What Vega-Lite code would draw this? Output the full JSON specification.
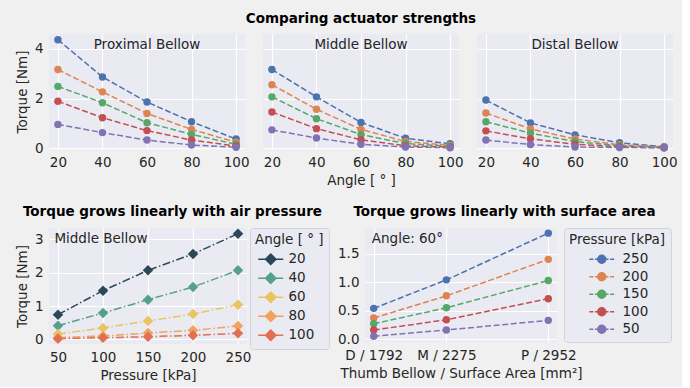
{
  "$schema": "https://vega.github.io/schema/vega-lite/v6.json",
  "background": "#f0f0f0",
  "padding": {"left": 15, "top": 11, "right": 5, "bottom": 5},
  "config": {
    "font": "DejaVu Sans",
    "view": {"fill": "#eaeaf2", "stroke": null},
    "axis": {"domain": false, "ticks": false, "gridColor": "#ffffff", "gridWidth": 1.2, "labelFontSize": 13.5, "labelColor": "#262626", "titleFontSize": 13.5, "titleFontWeight": "normal", "titleColor": "#262626", "labelPadding": 6, "titlePadding": 5, "labelFont": "DejaVu Sans", "titleFont": "DejaVu Sans", "labelOverlap": false, "labelFlush": false},
    "title": {"fontSize": 13.5, "fontWeight": "bold", "color": "#000000", "font": "DejaVu Sans", "anchor": "middle", "offset": 9},
    "legend": {"titleFontSize": 13.5, "labelFontSize": 13.5, "titleFontWeight": "normal", "titleColor": "#262626", "labelColor": "#262626", "titleFont": "DejaVu Sans", "labelFont": "DejaVu Sans", "fillColor": "#eaeaf2", "strokeColor": "#d2d2da", "cornerRadius": 3, "padding": 5, "rowPadding": 3, "titlePadding": 6, "symbolStrokeWidth": 1.5}
  },
  "datasets": {
    "torque": [
      {"bellow":"Proximal","area":2952,"pressure":250,"angle":20,"torque":4.37},
      {"bellow":"Proximal","area":2952,"pressure":250,"angle":40,"torque":2.87},
      {"bellow":"Proximal","area":2952,"pressure":250,"angle":60,"torque":1.86},
      {"bellow":"Proximal","area":2952,"pressure":250,"angle":80,"torque":1.07},
      {"bellow":"Proximal","area":2952,"pressure":250,"angle":100,"torque":0.37},
      {"bellow":"Proximal","area":2952,"pressure":200,"angle":20,"torque":3.17},
      {"bellow":"Proximal","area":2952,"pressure":200,"angle":40,"torque":2.27},
      {"bellow":"Proximal","area":2952,"pressure":200,"angle":60,"torque":1.40},
      {"bellow":"Proximal","area":2952,"pressure":200,"angle":80,"torque":0.76},
      {"bellow":"Proximal","area":2952,"pressure":200,"angle":100,"torque":0.24},
      {"bellow":"Proximal","area":2952,"pressure":150,"angle":20,"torque":2.49},
      {"bellow":"Proximal","area":2952,"pressure":150,"angle":40,"torque":1.83},
      {"bellow":"Proximal","area":2952,"pressure":150,"angle":60,"torque":1.03},
      {"bellow":"Proximal","area":2952,"pressure":150,"angle":80,"torque":0.56},
      {"bellow":"Proximal","area":2952,"pressure":150,"angle":100,"torque":0.16},
      {"bellow":"Proximal","area":2952,"pressure":100,"angle":20,"torque":1.89},
      {"bellow":"Proximal","area":2952,"pressure":100,"angle":40,"torque":1.23},
      {"bellow":"Proximal","area":2952,"pressure":100,"angle":60,"torque":0.71},
      {"bellow":"Proximal","area":2952,"pressure":100,"angle":80,"torque":0.33},
      {"bellow":"Proximal","area":2952,"pressure":100,"angle":100,"torque":0.09},
      {"bellow":"Proximal","area":2952,"pressure":50,"angle":20,"torque":0.96},
      {"bellow":"Proximal","area":2952,"pressure":50,"angle":40,"torque":0.63},
      {"bellow":"Proximal","area":2952,"pressure":50,"angle":60,"torque":0.33},
      {"bellow":"Proximal","area":2952,"pressure":50,"angle":80,"torque":0.13},
      {"bellow":"Proximal","area":2952,"pressure":50,"angle":100,"torque":0.04},
      {"bellow":"Middle","area":2275,"pressure":250,"angle":20,"torque":3.17},
      {"bellow":"Middle","area":2275,"pressure":250,"angle":40,"torque":2.07},
      {"bellow":"Middle","area":2275,"pressure":250,"angle":60,"torque":1.04},
      {"bellow":"Middle","area":2275,"pressure":250,"angle":80,"torque":0.40},
      {"bellow":"Middle","area":2275,"pressure":250,"angle":100,"torque":0.18},
      {"bellow":"Middle","area":2275,"pressure":200,"angle":20,"torque":2.56},
      {"bellow":"Middle","area":2275,"pressure":200,"angle":40,"torque":1.57},
      {"bellow":"Middle","area":2275,"pressure":200,"angle":60,"torque":0.76},
      {"bellow":"Middle","area":2275,"pressure":200,"angle":80,"torque":0.27},
      {"bellow":"Middle","area":2275,"pressure":200,"angle":100,"torque":0.12},
      {"bellow":"Middle","area":2275,"pressure":150,"angle":20,"torque":2.07},
      {"bellow":"Middle","area":2275,"pressure":150,"angle":40,"torque":1.19},
      {"bellow":"Middle","area":2275,"pressure":150,"angle":60,"torque":0.55},
      {"bellow":"Middle","area":2275,"pressure":150,"angle":80,"torque":0.19},
      {"bellow":"Middle","area":2275,"pressure":150,"angle":100,"torque":0.08},
      {"bellow":"Middle","area":2275,"pressure":100,"angle":20,"torque":1.46},
      {"bellow":"Middle","area":2275,"pressure":100,"angle":40,"torque":0.79},
      {"bellow":"Middle","area":2275,"pressure":100,"angle":60,"torque":0.34},
      {"bellow":"Middle","area":2275,"pressure":100,"angle":80,"torque":0.10},
      {"bellow":"Middle","area":2275,"pressure":100,"angle":100,"torque":0.05},
      {"bellow":"Middle","area":2275,"pressure":50,"angle":20,"torque":0.74},
      {"bellow":"Middle","area":2275,"pressure":50,"angle":40,"torque":0.41},
      {"bellow":"Middle","area":2275,"pressure":50,"angle":60,"torque":0.16},
      {"bellow":"Middle","area":2275,"pressure":50,"angle":80,"torque":0.05},
      {"bellow":"Middle","area":2275,"pressure":50,"angle":100,"torque":0.02},
      {"bellow":"Distal","area":1792,"pressure":250,"angle":20,"torque":1.94},
      {"bellow":"Distal","area":1792,"pressure":250,"angle":40,"torque":1.02},
      {"bellow":"Distal","area":1792,"pressure":250,"angle":60,"torque":0.54},
      {"bellow":"Distal","area":1792,"pressure":250,"angle":80,"torque":0.22},
      {"bellow":"Distal","area":1792,"pressure":250,"angle":100,"torque":0.06},
      {"bellow":"Distal","area":1792,"pressure":200,"angle":20,"torque":1.42},
      {"bellow":"Distal","area":1792,"pressure":200,"angle":40,"torque":0.78},
      {"bellow":"Distal","area":1792,"pressure":200,"angle":60,"torque":0.37},
      {"bellow":"Distal","area":1792,"pressure":200,"angle":80,"torque":0.14},
      {"bellow":"Distal","area":1792,"pressure":200,"angle":100,"torque":0.05},
      {"bellow":"Distal","area":1792,"pressure":150,"angle":20,"torque":1.07},
      {"bellow":"Distal","area":1792,"pressure":150,"angle":40,"torque":0.61},
      {"bellow":"Distal","area":1792,"pressure":150,"angle":60,"torque":0.27},
      {"bellow":"Distal","area":1792,"pressure":150,"angle":80,"torque":0.10},
      {"bellow":"Distal","area":1792,"pressure":150,"angle":100,"torque":0.03},
      {"bellow":"Distal","area":1792,"pressure":100,"angle":20,"torque":0.70},
      {"bellow":"Distal","area":1792,"pressure":100,"angle":40,"torque":0.38},
      {"bellow":"Distal","area":1792,"pressure":100,"angle":60,"torque":0.16},
      {"bellow":"Distal","area":1792,"pressure":100,"angle":80,"torque":0.06},
      {"bellow":"Distal","area":1792,"pressure":100,"angle":100,"torque":0.02},
      {"bellow":"Distal","area":1792,"pressure":50,"angle":20,"torque":0.33},
      {"bellow":"Distal","area":1792,"pressure":50,"angle":40,"torque":0.15},
      {"bellow":"Distal","area":1792,"pressure":50,"angle":60,"torque":0.05},
      {"bellow":"Distal","area":1792,"pressure":50,"angle":80,"torque":0.03},
      {"bellow":"Distal","area":1792,"pressure":50,"angle":100,"torque":0.02}
    ]
  },
  "spacing": 18,
  "resolve": {"scale": {"color": "independent"}},
  "vconcat": [
    {
      "bounds": "flush",
      "spacing": 18,
      "hconcat": [
        {
          "width": 196, "height": 115,
          "layer": [
            {"data": {"name": "torque"}, "transform": [{"filter": "datum.bellow == 'Proximal'"}],
             "mark": {"type": "line", "strokeWidth": 1.5, "strokeDash": [6, 2.6]},
             "encoding": {
               "x": {"field": "angle", "type": "quantitative", "scale": {"domain": [16, 104], "nice": false}, "axis": {"values": [20, 40, 60, 80, 100], "title": null}},
               "y": {"field": "torque", "type": "quantitative", "scale": {"domain": [-0.03, 4.6], "nice": false, "zero": false}, "axis": {"values": [0, 2, 4], "title": "Torque [Nm]"}},
               "color": {"field": "pressure", "type": "nominal", "scale": {"domain": [250, 200, 150, 100, 50], "range": ["#4c72b0", "#dd8452", "#55a868", "#c44e52", "#8172b3"]}, "legend": null}
             }},
            {"data": {"name": "torque"}, "transform": [{"filter": "datum.bellow == 'Proximal'"}],
             "mark": {"type": "point", "filled": true, "size": 55, "opacity": 1},
             "encoding": {
               "x": {"field": "angle", "type": "quantitative"},
               "y": {"field": "torque", "type": "quantitative"},
               "color": {"field": "pressure", "type": "nominal", "legend": null}
             }},
            {"data": {"values": [{"label": "Proximal Bellow"}]},
             "mark": {"type": "text", "fontSize": 13.5, "color": "#262626", "baseline": "middle"},
             "encoding": {"x": {"datum": 60}, "y": {"datum": 4.16}, "text": {"field": "label"}}}
          ]
        },
        {
          "width": 196, "height": 115,
          "title": {"text": "Comparing actuator strengths", "anchor": "middle", "frame": "group"},
          "layer": [
            {"data": {"name": "torque"}, "transform": [{"filter": "datum.bellow == 'Middle'"}],
             "mark": {"type": "line", "strokeWidth": 1.5, "strokeDash": [6, 2.6]},
             "encoding": {
               "x": {"field": "angle", "type": "quantitative", "scale": {"domain": [16, 104], "nice": false}, "axis": {"values": [20, 40, 60, 80, 100], "title": "Angle [ ° ]"}},
               "y": {"field": "torque", "type": "quantitative", "scale": {"domain": [-0.03, 4.6], "nice": false, "zero": false}, "axis": {"values": [0, 2, 4], "title": null, "labels": false}},
               "color": {"field": "pressure", "type": "nominal", "legend": null}
             }},
            {"data": {"name": "torque"}, "transform": [{"filter": "datum.bellow == 'Middle'"}],
             "mark": {"type": "point", "filled": true, "size": 55, "opacity": 1},
             "encoding": {
               "x": {"field": "angle", "type": "quantitative"},
               "y": {"field": "torque", "type": "quantitative"},
               "color": {"field": "pressure", "type": "nominal", "legend": null}
             }},
            {"data": {"values": [{"label": "Middle Bellow"}]},
             "mark": {"type": "text", "fontSize": 13.5, "color": "#262626", "baseline": "middle"},
             "encoding": {"x": {"datum": 60}, "y": {"datum": 4.16}, "text": {"field": "label"}}}
          ]
        },
        {
          "width": 196, "height": 115,
          "layer": [
            {"data": {"name": "torque"}, "transform": [{"filter": "datum.bellow == 'Distal'"}],
             "mark": {"type": "line", "strokeWidth": 1.5, "strokeDash": [6, 2.6]},
             "encoding": {
               "x": {"field": "angle", "type": "quantitative", "scale": {"domain": [16, 104], "nice": false}, "axis": {"values": [20, 40, 60, 80, 100], "title": null}},
               "y": {"field": "torque", "type": "quantitative", "scale": {"domain": [-0.03, 4.6], "nice": false, "zero": false}, "axis": {"values": [0, 2, 4], "title": null, "labels": false}},
               "color": {"field": "pressure", "type": "nominal", "legend": null}
             }},
            {"data": {"name": "torque"}, "transform": [{"filter": "datum.bellow == 'Distal'"}],
             "mark": {"type": "point", "filled": true, "size": 55, "opacity": 1},
             "encoding": {
               "x": {"field": "angle", "type": "quantitative"},
               "y": {"field": "torque", "type": "quantitative"},
               "color": {"field": "pressure", "type": "nominal", "legend": null}
             }},
            {"data": {"values": [{"label": "Distal Bellow"}]},
             "mark": {"type": "text", "fontSize": 13.5, "color": "#262626", "baseline": "middle"},
             "encoding": {"x": {"datum": 60}, "y": {"datum": 4.16}, "text": {"field": "label"}}}
          ]
        }
      ]
    },
    {
      "bounds": "flush",
      "spacing": 118,
      "resolve": {"scale": {"color": "independent"}},
      "hconcat": [
        {
          "width": 198, "height": 116,
          "title": {"text": "Torque grows linearly with air pressure", "anchor": "middle", "frame": "bounds"},
          "layer": [
            {"data": {"name": "torque"}, "transform": [{"filter": "datum.bellow == 'Middle'"}],
             "mark": {"type": "line", "strokeWidth": 1.5, "strokeDash": [8, 2.5, 1.5, 2.5]},
             "encoding": {
               "x": {"field": "pressure", "type": "quantitative", "scale": {"domain": [40, 260], "nice": false}, "axis": {"values": [50, 100, 150, 200, 250], "title": "Pressure [kPa]"}},
               "y": {"field": "torque", "type": "quantitative", "scale": {"domain": [-0.14, 3.34], "nice": false, "zero": false}, "axis": {"values": [0, 1, 2, 3], "tickCount": 4, "title": "Torque [Nm]"}},
               "color": {"field": "angle", "type": "nominal", "scale": {"domain": [20, 40, 60, 80, 100], "range": ["#2a4858", "#55a08b", "#e8c562", "#f0a35e", "#e0704f"]},
                 "legend": {"title": "Angle [ ° ]", "orient": "right", "offset": 3, "rowPadding": 2, "symbolType": "M-2.5,0H2.5M0,-1.05L1.05,0L0,1.05L-1.05,0Z", "symbolSize": 100, "symbolOffset": 9, "labelOffset": 11}}
             }},
            {"data": {"name": "torque"}, "transform": [{"filter": "datum.bellow == 'Middle'"}],
             "mark": {"type": "point", "shape": "diamond", "filled": true, "size": 110, "opacity": 1},
             "encoding": {
               "x": {"field": "pressure", "type": "quantitative"},
               "y": {"field": "torque", "type": "quantitative", "axis": {"values": [0, 1, 2, 3], "tickCount": 4, "title": "Torque [Nm]"}},
               "color": {"field": "angle", "type": "nominal"}
             }},
            {"data": {"values": [{"label": "Middle Bellow"}]},
             "mark": {"type": "text", "fontSize": 13.5, "color": "#262626", "baseline": "middle", "align": "left"},
             "encoding": {"x": {"datum": 46}, "y": {"datum": 3.0}, "text": {"field": "label"}}}
          ]
        },
        {
          "width": 192, "height": 114,
          "title": {"text": "Torque grows linearly with surface area", "anchor": "middle", "frame": "bounds"},
          "layer": [
            {"data": {"name": "torque"}, "transform": [{"filter": "datum.angle == 60"}],
             "mark": {"type": "line", "strokeWidth": 1.5, "strokeDash": [6, 2.6]},
             "encoding": {
               "x": {"field": "area", "type": "quantitative", "scale": {"domain": [1734, 3010], "nice": false, "zero": false}, "axis": {"values": [1792, 2275, 2952], "labelExpr": "datum.value == 1792 ? 'D / 1792' : datum.value == 2275 ? 'M / 2275' : 'P / 2952'", "labelDx": 6, "title": "Thumb Bellow / Surface Area [mm²]"}},
               "y": {"field": "torque", "type": "quantitative", "scale": {"domain": [-0.05, 1.95], "nice": false, "zero": false}, "axis": {"values": [0, 0.5, 1, 1.5], "tickCount": 4, "format": ".1f", "title": null}},
               "color": {"field": "pressure", "type": "nominal", "scale": {"domain": [250, 200, 150, 100, 50], "range": ["#4c72b0", "#dd8452", "#55a868", "#c44e52", "#8172b3"]},
                 "legend": {"title": "Pressure [kPa]", "orient": "right", "offset": 7, "rowPadding": 2.5, "symbolType": "M-3.1,0H-2.1M-1.7,0H-1M1,0H1.7M2.1,0H3.1M-1,0A1,1 0 1,1 1,0A1,1 0 1,1 -1,0Z", "symbolSize": 64, "symbolOffset": 26, "labelOffset": 14}}
             }},
            {"data": {"name": "torque"}, "transform": [{"filter": "datum.angle == 60"}],
             "mark": {"type": "point", "filled": true, "size": 55, "opacity": 1},
             "encoding": {
               "x": {"field": "area", "type": "quantitative"},
               "y": {"field": "torque", "type": "quantitative", "axis": {"values": [0, 0.5, 1, 1.5], "tickCount": 4, "format": ".1f", "title": null}},
               "color": {"field": "pressure", "type": "nominal"}
             }},
            {"data": {"values": [{"label": "Angle: 60°"}]},
             "mark": {"type": "text", "fontSize": 13.5, "color": "#262626", "baseline": "middle", "align": "left"},
             "encoding": {"x": {"datum": 1779}, "y": {"datum": 1.76}, "text": {"field": "label"}}}
          ]
        }
      ]
    }
  ]
}
